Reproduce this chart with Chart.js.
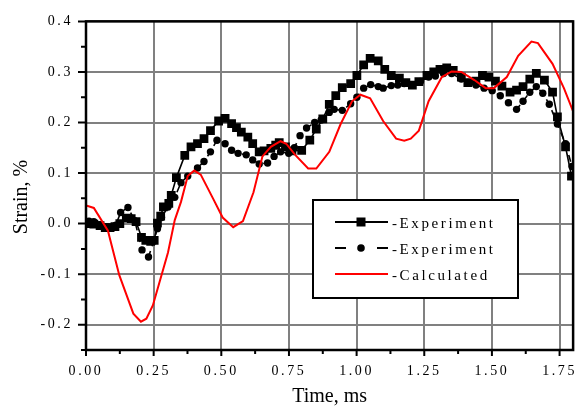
<!DOCTYPE html>
<html>
<head>
<meta charset="utf-8">
<script src="https://cdn.jsdelivr.net/npm/chart.js@4.4.0/dist/chart.umd.min.js"></script>
<style>
  html, body { margin: 0; padding: 0; background: #fff; }
  #wrap { width: 585px; height: 406px; }
</style>
</head>
<body>
<div id="wrap"><canvas id="myChart" width="585" height="406"></canvas></div>
<script>
// experiment 1 (solid line, squares)
var squareTime = [0.000, 0.011, 0.029, 0.052, 0.071, 0.089, 0.107, 0.125, 0.149, 0.167, 0.185, 0.205, 0.221, 0.239, 0.252,
  0.264, 0.276, 0.286, 0.306, 0.315, 0.334, 0.365, 0.388, 0.412, 0.436, 0.460, 0.490, 0.514, 0.538, 0.556, 0.574, 0.598,
  0.616, 0.640, 0.658, 0.683, 0.701, 0.714, 0.737, 0.761, 0.797, 0.827, 0.851, 0.875, 0.899, 0.923, 0.947, 0.978, 1.001,
  1.026, 1.050, 1.080, 1.104, 1.128, 1.158, 1.182, 1.206, 1.230, 1.260, 1.285, 1.308, 1.333, 1.357, 1.387, 1.411, 1.441,
  1.465, 1.489, 1.513, 1.537, 1.567, 1.591, 1.615, 1.640, 1.664, 1.694, 1.724, 1.742, 1.772, 1.794];
var squareStrain = [0.000, 0.001, -0.001, -0.004, -0.008, -0.008, -0.006, 0.000, 0.011, 0.010, 0.004, -0.027, -0.033, -0.035, -0.033,
  0.001, 0.015, 0.033, 0.040, 0.056, 0.091, 0.135, 0.152, 0.158, 0.168, 0.184, 0.203, 0.208, 0.198, 0.190, 0.181, 0.171,
  0.158, 0.142, 0.144, 0.149, 0.155, 0.160, 0.152, 0.144, 0.145, 0.165, 0.187, 0.207, 0.236, 0.253, 0.269, 0.277, 0.293,
  0.314, 0.327, 0.322, 0.305, 0.293, 0.288, 0.279, 0.274, 0.281, 0.293, 0.300, 0.305, 0.308, 0.303, 0.290, 0.279, 0.282,
  0.293, 0.290, 0.282, 0.272, 0.260, 0.264, 0.271, 0.286, 0.297, 0.284, 0.260, 0.211, 0.152, 0.094];

// experiment 2 (dashed line, circles)
var circleTime = [0.000, 0.011, 0.029, 0.050, 0.070, 0.090, 0.110, 0.128, 0.155, 0.180, 0.207, 0.231, 0.250, 0.264, 0.279,
  0.303, 0.328, 0.351, 0.376, 0.412, 0.436, 0.460, 0.484, 0.514, 0.538, 0.562, 0.592, 0.616, 0.640, 0.671, 0.695, 0.719,
  0.749, 0.770, 0.791, 0.815, 0.845, 0.869, 0.899, 0.917, 0.947, 0.978, 1.001, 1.026, 1.052, 1.080, 1.098, 1.128, 1.152,
  1.176, 1.206, 1.236, 1.266, 1.291, 1.321, 1.351, 1.387, 1.411, 1.441, 1.471, 1.501, 1.531, 1.561, 1.591, 1.615, 1.640,
  1.664, 1.688, 1.712, 1.742, 1.772, 1.796];
var circleStrain = [0.002, 0.005, 0.004, -0.002, -0.006, -0.007, -0.003, 0.022, 0.032, 0.006, -0.052, -0.066, -0.035, -0.010, 0.012,
  0.033, 0.052, 0.081, 0.094, 0.110, 0.123, 0.142, 0.165, 0.158, 0.145, 0.139, 0.136, 0.126, 0.118, 0.120, 0.133, 0.142,
  0.139, 0.150, 0.174, 0.189, 0.200, 0.205, 0.220, 0.226, 0.224, 0.237, 0.250, 0.268, 0.275, 0.271, 0.268, 0.273, 0.274,
  0.277, 0.275, 0.281, 0.290, 0.292, 0.297, 0.297, 0.286, 0.279, 0.274, 0.268, 0.263, 0.253, 0.239, 0.226, 0.242, 0.260,
  0.271, 0.258, 0.236, 0.197, 0.158, 0.113];

// calculated (red)
var calcTime = [0.000, 0.029, 0.081, 0.123, 0.175, 0.203, 0.223, 0.247, 0.303, 0.328, 0.351, 0.376, 0.400, 0.424, 0.472,
  0.505, 0.544, 0.580, 0.619, 0.652, 0.683, 0.719, 0.740, 0.773, 0.821, 0.851, 0.899, 0.941, 0.983, 1.014, 1.050, 1.098,
  1.146, 1.176, 1.200, 1.230, 1.266, 1.315, 1.351, 1.387, 1.435, 1.477, 1.507, 1.555, 1.597, 1.646, 1.670, 1.724, 1.766, 1.800];
var calcStrain = [0.036, 0.031, -0.014, -0.102, -0.178, -0.194, -0.188, -0.162, -0.057, 0.007, 0.043, 0.094, 0.105, 0.097, 0.047,
  0.012, -0.007, 0.005, 0.062, 0.133, 0.152, 0.163, 0.158, 0.136, 0.109, 0.109, 0.142, 0.197, 0.242, 0.255, 0.248, 0.203,
  0.168, 0.164, 0.168, 0.184, 0.242, 0.290, 0.301, 0.300, 0.284, 0.268, 0.268, 0.290, 0.332, 0.360, 0.357, 0.316, 0.268, 0.222];

var xMajorTicks = [0, 0.25, 0.5, 0.75, 1.0, 1.25, 1.5, 1.75];
var xMinorTicks = [0.125, 0.375, 0.625, 0.875, 1.125, 1.375, 1.625];
var yMajorTicks = [-0.2, -0.1, 0.0, 0.1, 0.2, 0.3, 0.4];
var yMinorTicks = [-0.25, -0.15, -0.05, 0.05, 0.15, 0.25, 0.35];

var legendLabels = ["-Experiment", "-Experiment", "-Calculated"];
var xTitle = "Time, ms";
var yTitle = "Strain, %";

function toPoints(xs, ys) {
  return xs.map(function (x, i) { return { x: x, y: ys[i] }; });
}
function isIn(list, v) {
  return list.some(function (m) { return Math.abs(m - v) < 1e-6; });
}
function allTicks(major, minor) {
  return major.concat(minor).sort(function (a, b) { return a - b; })
    .map(function (v) { return { value: v }; });
}

Chart.defaults.font.family = "'Liberation Serif', 'DejaVu Serif', serif";
Chart.defaults.color = "#000";

var decor = {
  id: "decor",
  beforeDraw: function (chart) {
    chart.ctx.letterSpacing = "2.6px"; // spaced tick labels
  },
  afterDraw: function (chart) {
    var ctx = chart.ctx;
    var a = chart.chartArea;
    var xs = chart.scales.x, ys = chart.scales.y;
    ctx.save();
    ctx.letterSpacing = "0px";
    ctx.strokeStyle = "#000";
    ctx.setLineDash([]);

    // tick marks
    ctx.lineWidth = 2;
    ctx.beginPath();
    xs.ticks.forEach(function (t) {
      var px = xs.getPixelForValue(t.value);
      var len = isIn(xMajorTicks, t.value) ? 6 : 4;
      ctx.moveTo(px, a.bottom);
      ctx.lineTo(px, a.bottom + len);
    });
    ys.ticks.forEach(function (t) {
      var py = ys.getPixelForValue(t.value);
      var len = isIn(yMajorTicks, t.value) ? 8 : 5;
      ctx.moveTo(a.left - len, py);
      ctx.lineTo(a.left, py);
    });
    ctx.stroke();

    // frame
    ctx.lineWidth = 2.5;
    ctx.strokeRect(a.left, a.top, a.right - a.left, a.bottom - a.top);

    // axis titles
    ctx.fillStyle = "#000";
    ctx.font = "20px 'Liberation Serif', serif";
    ctx.textAlign = "center";
    ctx.textBaseline = "alphabetic";
    ctx.fillText(xTitle, (a.left + a.right) / 2, 402);
    ctx.save();
    ctx.translate(27, 197);
    ctx.rotate(-Math.PI / 2);
    ctx.fillText(yTitle, 0, 0);
    ctx.restore();

    // legend
    var bx = 313, by = 200, bw = 205, bh = 98;
    ctx.fillStyle = "#fff";
    ctx.fillRect(bx, by, bw, bh);
    ctx.lineWidth = 2;
    ctx.strokeStyle = "#000";
    ctx.strokeRect(bx, by, bw, bh);

    var rows = [222, 248, 274];
    var x0 = 335, x1 = 388, mx = 361;
    ctx.lineWidth = 2;
    // row 1
    ctx.beginPath();
    ctx.moveTo(x0, rows[0]); ctx.lineTo(x1, rows[0]);
    ctx.stroke();
    ctx.fillStyle = "#000";
    ctx.fillRect(mx - 4.5, rows[0] - 4.5, 9, 9);
    // row 2
    ctx.beginPath();
    ctx.moveTo(x0, rows[1]); ctx.lineTo(x0 + 11, rows[1]);
    ctx.moveTo(x1 - 11, rows[1]); ctx.lineTo(x1, rows[1]);
    ctx.stroke();
    ctx.beginPath();
    ctx.arc(mx, rows[1], 3.8, 0, Math.PI * 2);
    ctx.fill();
    // row 3
    ctx.strokeStyle = "#ff0000";
    ctx.beginPath();
    ctx.moveTo(x0, rows[2]); ctx.lineTo(x1, rows[2]);
    ctx.stroke();

    ctx.fillStyle = "#000";
    ctx.font = "15px 'Liberation Serif', serif";
    ctx.letterSpacing = "2.6px";
    ctx.textAlign = "left";
    legendLabels.forEach(function (lab, i) {
      ctx.fillText(lab, 392, rows[i] + 6);
    });
    ctx.restore();
  }
};

var ctx = document.getElementById("myChart").getContext("2d");
var chart = new Chart(ctx, {
  type: "line",
  data: {
    datasets: [
      {
        label: legendLabels[0],
        data: toPoints(squareTime, squareStrain),
        borderColor: "#000",
        backgroundColor: "#000",
        borderWidth: 1.6,
        pointStyle: "rect",
        pointRadius: 6.2,
        pointBorderWidth: 0,
        order: 1
      },
      {
        label: legendLabels[1],
        data: toPoints(circleTime, circleStrain),
        borderColor: "#000",
        backgroundColor: "#000",
        borderWidth: 1.6,
        borderDash: [7, 5],
        pointStyle: "circle",
        pointRadius: 3.7,
        pointBorderWidth: 0,
        order: 2
      },
      {
        label: legendLabels[2],
        data: toPoints(calcTime, calcStrain),
        borderColor: "#ff0000",
        borderWidth: 2,
        pointRadius: 0,
        order: 0
      }
    ]
  },
  options: {
    responsive: false,
    animation: false,
    events: [],
    layout: { padding: { top: 15, right: 1, left: 0, bottom: 0 } },
    plugins: {
      legend: { display: false },
      tooltip: { enabled: false }
    },
    elements: { line: { tension: 0 } },
    scales: {
      x: {
        type: "linear",
        position: "bottom",
        min: 0,
        max: 1.8,
        afterBuildTicks: function (scale) { scale.ticks = allTicks(xMajorTicks, xMinorTicks); },
        afterFit: function (scale) { scale.height = 56; },
        border: { display: false },
        grid: {
          drawTicks: false,
          lineWidth: 2,
          color: function (c) {
            return c.tick && isIn(xMajorTicks, c.tick.value) ? "#808080" : "rgba(0,0,0,0)";
          }
        },
        ticks: {
          autoSkip: false,
          maxRotation: 0,
          padding: 13,
          font: { size: 14 },
          callback: function (v) { return isIn(xMajorTicks, v) ? v.toFixed(2) : ""; }
        }
      },
      y: {
        type: "linear",
        position: "left",
        min: -0.25,
        max: 0.4,
        afterBuildTicks: function (scale) { scale.ticks = allTicks(yMajorTicks, yMinorTicks); },
        afterFit: function (scale) { scale.width = 86; },
        border: { display: false },
        grid: {
          drawTicks: false,
          lineWidth: 2,
          color: function (c) {
            return c.tick && isIn(yMajorTicks, c.tick.value) ? "#808080" : "rgba(0,0,0,0)";
          }
        },
        ticks: {
          autoSkip: false,
          padding: 13,
          font: { size: 14 },
          callback: function (v) { return isIn(yMajorTicks, v) ? v.toFixed(1) : ""; }
        }
      }
    }
  },
  plugins: [decor]
});
</script>
</body>
</html>
